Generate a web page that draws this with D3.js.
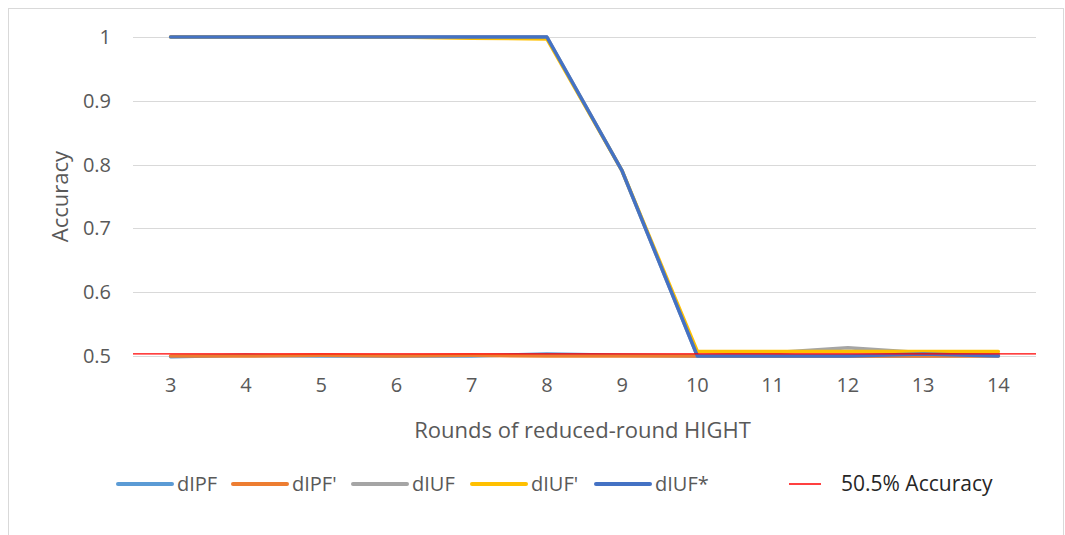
<!DOCTYPE html>
<html>
<head>
<meta charset="utf-8">
<script src="https://cdn.jsdelivr.net/npm/d3@7/dist/d3.min.js"></script>
<style>
  html, body { margin: 0; padding: 0; background: #fff; }
  svg { display: block; }
  text { font-family: "Open Sans", "Noto Sans", sans-serif; }
</style>
</head>
<body>
<svg id="chart" width="1065" height="535"></svg>
<script>
// Rounds of reduced-round HIGHT on the x axis
const rounds = ["3", "4", "5", "6", "7", "8", "9", "10", "11", "12", "13", "14"];
const yTicks = [0.5, 0.6, 0.7, 0.8, 0.9, 1];

// Accuracy per distinguisher
const dIPF      = [0.499, 0.501, 0.500, 0.500, 0.500, 0.503, 0.501, 0.500, 0.500, 0.500, 0.500, 0.501];
const dIPFp     = [0.500, 0.500, 0.501, 0.500, 0.501, 0.500, 0.500, 0.500, 0.500, 0.500, 0.500, 0.500];
const dIUF      = [1, 1, 1, 1, 1, 1, 0.790, 0.500, 0.505, 0.513, 0.505, 0.503];
const dIUFp     = [1, 1, 1, 1, 0.998, 0.997, 0.790, 0.507, 0.507, 0.507, 0.507, 0.507];
const dIUFstar  = [1, 1, 1, 1, 1, 1, 0.790, 0.500, 0.500, 0.500, 0.503, 0.500];
const threshold = 0.505;

const seriesNames  = ["dIPF", "dIPF'", "dIUF", "dIUF'", "dIUF*"];
const seriesValues = [dIPF, dIPFp, dIUF, dIUFp, dIUFstar];
const seriesColors = ["#5B9BD5", "#ED7D31", "#A5A5A5", "#FFC000", "#4472C4"];

const svg = d3.select("#chart");

// outer chart frame
svg.append("rect")
  .attr("x", 8.5).attr("y", 8.5)
  .attr("width", 1055).attr("height", 540)
  .attr("fill", "none").attr("stroke", "#d9d9d9");

const plot = { left: 133, right: 1036, top: 37, bottom: 356 };

const x = d3.scaleBand().domain(rounds).range([plot.left, plot.right]);
const y = d3.scaleLinear().domain([0.5, 1]).range([plot.bottom, plot.top]);

// horizontal gridlines
svg.append("g").selectAll("line").data(yTicks).join("line")
  .attr("x1", plot.left).attr("x2", plot.right)
  .attr("y1", d => Math.round(y(d)) + 0.5).attr("y2", d => Math.round(y(d)) + 0.5)
  .attr("stroke", "#d9d9d9").attr("stroke-width", 1);

// y tick labels
const yAxis = d3.axisLeft(y).tickValues(yTicks).tickSize(0).tickPadding(0)
  .tickFormat(d => d === 1 ? "1" : d3.format(".1f")(d));
const gy = svg.append("g").attr("transform", `translate(${plot.left - 22},0)`).call(yAxis);
gy.select(".domain").remove();
gy.selectAll("text").attr("fill", "#595959").style("font-size", "20px")
  .style("font-family", "'Open Sans', 'Noto Sans', sans-serif");

// x tick labels
const xAxis = d3.axisBottom(x).tickSize(0).tickPadding(0);
const gx = svg.append("g").attr("transform", `translate(0,${plot.bottom + 22})`).call(xAxis);
gx.select(".domain").remove();
gx.selectAll("text").attr("fill", "#595959").style("font-size", "20px")
  .style("font-family", "'Open Sans', 'Noto Sans', sans-serif");

// series lines
const line = d3.line()
  .x((d, i) => x(rounds[i]) + x.bandwidth() / 2)
  .y(d => y(d));

svg.append("g").selectAll("path").data(seriesValues).join("path")
  .attr("d", d => line(d))
  .attr("fill", "none")
  .attr("stroke", (d, i) => seriesColors[i])
  .attr("stroke-width", 3.5)
  .attr("stroke-linejoin", "round")
  .attr("stroke-linecap", "round");

// 50.5% accuracy reference line
svg.append("line")
  .attr("x1", plot.left).attr("x2", plot.right)
  .attr("y1", y(threshold) + 1).attr("y2", y(threshold) + 1)
  .attr("stroke", "#FF0000").attr("stroke-width", 1.3);

// axis titles
svg.append("text")
  .attr("x", (plot.left + plot.right) / 2 - 2).attr("y", 438)
  .attr("text-anchor", "middle").attr("fill", "#595959")
  .style("font-size", "22px")
  .text("Rounds of reduced-round HIGHT");

svg.append("text")
  .attr("transform", `translate(68,${(plot.top + plot.bottom) / 2}) rotate(-90)`)
  .attr("text-anchor", "middle").attr("fill", "#595959")
  .style("font-size", "22px")
  .text("Accuracy");

// legend
const legendX = [118, 233, 353, 472, 596];
const legendY = 484;
const lg = svg.append("g");
seriesNames.forEach((name, i) => {
  lg.append("line")
    .attr("x1", legendX[i]).attr("x2", legendX[i] + 54)
    .attr("y1", legendY).attr("y2", legendY)
    .attr("stroke", seriesColors[i]).attr("stroke-width", 4)
    .attr("stroke-linecap", "round");
  lg.append("text")
    .attr("x", legendX[i] + 59).attr("y", legendY + 7)
    .attr("fill", "#595959").style("font-size", "20px")
    .text(name);
});
lg.append("line")
  .attr("x1", 789).attr("x2", 821)
  .attr("y1", legendY).attr("y2", legendY)
  .attr("stroke", "#FF0000").attr("stroke-width", 1.5);
lg.append("text")
  .attr("x", 841).attr("y", legendY + 7)
  .attr("fill", "#262626").style("font-size", "21px")
  .text("50.5% Accuracy");
</script>
</body>
</html>
